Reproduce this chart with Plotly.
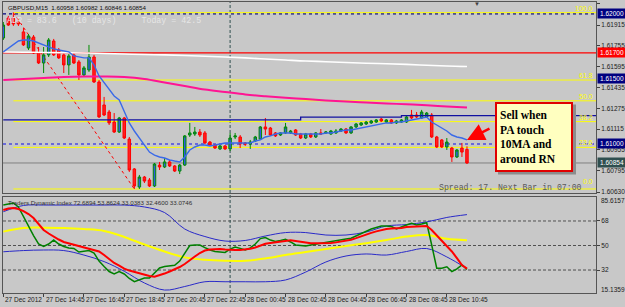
import plotly.graph_objects as go

# ---------------- data ----------------
symbol = "GBPUSD,M15"
bar_idx = list(range(93))  # 15-min bars, 0 = 27 Dec 12:45

opens = [1.61815, 1.61969, 1.61969, 1.61938, 1.61862, 1.61738, 1.61823, 1.61700, 1.61623, 1.61685,
         1.61792, 1.61723, 1.61685, 1.61608, 1.61685, 1.61631, 1.61531, 1.61569, 1.61669, 1.61477,
         1.61300, 1.61246, 1.61169, 1.61092, 1.61200, 1.61038, 1.60808, 1.60669, 1.60746, 1.60723,
         1.60677, 1.60838, 1.60823, 1.60862, 1.60831, 1.60792, 1.60838, 1.61069, 1.61077, 1.61092,
         1.61085, 1.61015, 1.60992, 1.60962, 1.60985, 1.60962, 1.61054, 1.61054, 1.61008, 1.61000,
         1.61023, 1.61038, 1.61131, 1.61123, 1.61085, 1.61069, 1.61085, 1.61085, 1.61108, 1.61077,
         1.61046, 1.61077, 1.61054, 1.61085, 1.61085, 1.61077, 1.61085, 1.61100, 1.61115, 1.61085,
         1.61131, 1.61146, 1.61154, 1.61162, 1.61169, 1.61192, 1.61169, 1.61185, 1.61162, 1.61169,
         1.61169, 1.61223, 1.61223, 1.61200, 1.61208, 1.61223, 1.61054, 1.61031, 1.60977, 1.60969,
         1.60900, 1.60969, 1.60958]
highs = [1.61938, 1.61985, 1.62010, 1.61962, 1.61892, 1.61846, 1.61838, 1.61746, 1.61746, 1.61815,
         1.61808, 1.61738, 1.61700, 1.61692, 1.61700, 1.61646, 1.61600, 1.61762, 1.61685, 1.61492,
         1.61362, 1.61262, 1.61238, 1.61208, 1.61208, 1.61054, 1.60815, 1.60762, 1.60754, 1.60738,
         1.60854, 1.60862, 1.60892, 1.60877, 1.60838, 1.60846, 1.61069, 1.61162, 1.61131, 1.61115,
         1.61100, 1.61023, 1.61000, 1.60992, 1.60992, 1.61085, 1.61085, 1.61069, 1.61015, 1.61031,
         1.61062, 1.61138, 1.61200, 1.61131, 1.61092, 1.61092, 1.61162, 1.61108, 1.61115, 1.61085,
         1.61085, 1.61085, 1.61092, 1.61115, 1.61100, 1.61108, 1.61115, 1.61123, 1.61123, 1.61138,
         1.61162, 1.61169, 1.61177, 1.61185, 1.61192, 1.61200, 1.61192, 1.61192, 1.61185, 1.61192,
         1.61215, 1.61262, 1.61246, 1.61262, 1.61246, 1.61238, 1.61062, 1.61038, 1.61046, 1.60977,
         1.60962, 1.61008, 1.60982]
lows = [1.61800, 1.61908, 1.61908, 1.61908, 1.61754, 1.61723, 1.61692, 1.61615, 1.61546, 1.61669,
        1.61677, 1.61654, 1.61546, 1.61531, 1.61615, 1.61492, 1.61515, 1.61554, 1.61469, 1.61200,
        1.61215, 1.61146, 1.61085, 1.61085, 1.61038, 1.60785, 1.60654, 1.60654, 1.60700, 1.60669,
        1.60669, 1.60800, 1.60815, 1.60823, 1.60785, 1.60769, 1.60831, 1.61054, 1.61062, 1.61054,
        1.61000, 1.60985, 1.60962, 1.60954, 1.60954, 1.60946, 1.61038, 1.60969, 1.60985, 1.60962,
        1.61015, 1.61031, 1.61069, 1.61062, 1.61054, 1.61062, 1.61077, 1.61077, 1.61062, 1.61038,
        1.61038, 1.61046, 1.61046, 1.61069, 1.61077, 1.61069, 1.61077, 1.61092, 1.61077, 1.61077,
        1.61123, 1.61138, 1.61146, 1.61154, 1.61162, 1.61169, 1.61162, 1.61154, 1.61154, 1.61162,
        1.61162, 1.61192, 1.61200, 1.61192, 1.61200, 1.61046, 1.60969, 1.60969, 1.60954, 1.60862,
        1.60892, 1.60900, 1.60846]
closes = [1.61915, 1.61915, 1.61923, 1.61923, 1.61762, 1.61831, 1.61700, 1.61623, 1.61685, 1.61800,
          1.61685, 1.61662, 1.61608, 1.61677, 1.61623, 1.61531, 1.61585, 1.61669, 1.61477, 1.61208,
          1.61223, 1.61162, 1.61092, 1.61200, 1.61046, 1.60800, 1.60677, 1.60746, 1.60715, 1.60677,
          1.60846, 1.60823, 1.60862, 1.60831, 1.60792, 1.60838, 1.61062, 1.61085, 1.61092, 1.61069,
          1.61008, 1.60992, 1.60969, 1.60985, 1.60962, 1.61046, 1.61062, 1.61000, 1.61000, 1.61015,
          1.61054, 1.61131, 1.61115, 1.61069, 1.61062, 1.61085, 1.61131, 1.61100, 1.61069, 1.61046,
          1.61077, 1.61054, 1.61085, 1.61077, 1.61092, 1.61100, 1.61100, 1.61115, 1.61085, 1.61131,
          1.61154, 1.61162, 1.61169, 1.61177, 1.61185, 1.61177, 1.61185, 1.61162, 1.61177, 1.61185,
          1.61208, 1.61200, 1.61208, 1.61246, 1.61238, 1.61054, 1.60977, 1.60977, 1.61015, 1.60900,
          1.60954, 1.60938, 1.60854]

ma10 = [1.61708, 1.61738, 1.61769, 1.61792, 1.61800, 1.61800, 1.61792, 1.61777, 1.61762, 1.61746,
        1.61731, 1.61723, 1.61715, 1.61708, 1.61677, 1.61669, 1.61662, 1.61662, 1.61608, 1.61523,
        1.61469, 1.61423, 1.61369, 1.61338, 1.61246, 1.61162, 1.61100, 1.61046, 1.60985, 1.60938,
        1.60915, 1.60900, 1.60892, 1.60877, 1.60869, 1.60862, 1.60900, 1.60954, 1.60977, 1.60992,
        1.60992, 1.60985, 1.60992, 1.61000, 1.61008, 1.61008, 1.61008, 1.61008, 1.61008, 1.61008,
        1.61023, 1.61031, 1.61054, 1.61062, 1.61077, 1.61085, 1.61085, 1.61085, 1.61077, 1.61077,
        1.61077, 1.61077, 1.61077, 1.61077, 1.61085, 1.61085, 1.61092, 1.61100, 1.61108, 1.61108,
        1.61115, 1.61123, 1.61131, 1.61138, 1.61146, 1.61154, 1.61162, 1.61162, 1.61169, 1.61169,
        1.61177, 1.61185, 1.61192, 1.61200, 1.61208, 1.61169, 1.61146, 1.61123, 1.61100, 1.61069,
        1.61054, 1.61046, 1.61031]

slow_idx = [0, 4, 8, 12, 16, 20, 24, 28, 32, 36, 40, 44, 48, 52, 56, 60, 64, 68, 72, 76, 80, 84, 88, 92]
ma_white = [1.61708, 1.61706, 1.61704, 1.61702, 1.61700, 1.61696, 1.61692, 1.61688, 1.61685, 1.61681,
            1.61675, 1.61669, 1.61662, 1.61654, 1.61646, 1.61638, 1.61633, 1.61627, 1.61621, 1.61617,
            1.61612, 1.61606, 1.61600, 1.61596]
ma_pink = [1.61492, 1.61500, 1.61508, 1.61515, 1.61519, 1.61519, 1.61515, 1.61500, 1.61473, 1.61446,
           1.61419, 1.61400, 1.61381, 1.61367, 1.61355, 1.61346, 1.61335, 1.61326, 1.61319, 1.61312,
           1.61305, 1.61298, 1.61289, 1.61281]

step_idx = [0, 59, 79]
step_vals = [1.61185, 1.61206, 1.61218]

fib_levels = [100.0, 61.8, 50.0, 38.2, 23.6, 0.0]
fib_from_bar, fib_to_bar = 2, 26
level_navy = 1.62000
level_red = 1.61700
level_dotted = 1.61000

price_ticks = [1.62080, 1.61915, 1.61755, 1.61595, 1.61435, 1.61275, 1.61115, 1.60955, 1.60795, 1.60630]
marked_prices = [1.62000, 1.61700, 1.61500, 1.61000]
marked_colors = ["#000080", "#FF0000", "#000080", "#000080"]

time_label_bars = [0, 8, 16, 24, 32, 40, 48, 56, 64, 72, 80, 88]
time_labels = ["27 Dec 2012", "27 Dec 14:45", "27 Dec 16:45", "27 Dec 18:45", "27 Dec 20:45",
               "27 Dec 22:45", "28 Dec 00:45", "28 Dec 02:45", "28 Dec 04:45", "28 Dec 06:45",
               "28 Dec 08:45", "28 Dec 10:45"]
day_break_bar = 45

# Traders Dynamic Index
tdi_green = [79.7, 80.5, 81.2, 78.3, 71.3, 63.2, 57.3, 51.1, 49.3, 51.1,
             54.0, 51.1, 49.3, 48.2, 47.8, 45.2, 46.0, 46.3, 44.5, 38.6,
             34.6, 30.9, 29.1, 30.8, 29.1, 25.8, 23.4, 25.0, 26.2, 26.2,
             29.8, 33.5, 34.6, 34.9, 35.5, 38.6, 44.5, 50.0, 50.4, 50.4,
             48.5, 46.7, 45.6, 45.4, 44.9, 47.4, 48.9, 47.9, 46.7, 48.2,
             51.1, 55.1, 55.9, 54.0, 52.9, 53.7, 54.6, 52.6, 50.4, 50.0,
             49.6, 50.4, 51.1, 51.6, 52.2, 52.8, 53.7, 54.5, 54.8, 55.3,
             57.0, 59.2, 60.6, 62.1, 63.2, 64.3, 64.3, 63.9, 62.1, 63.8,
             65.1, 66.3, 65.1, 65.8, 66.7, 50.4, 33.3, 33.3, 34.4, 30.8,
             32.8, 35.7, 32.4600]
tdi_red = [76.1, 77.2, 77.5, 76.8, 75.3, 73.1, 70.2, 65.8, 61.4, 58.8,
           56.3, 54.4, 52.6, 51.6, 50.7, 50.0, 48.9, 47.8, 46.7, 45.6,
           43.0, 40.1, 37.2, 35.2, 33.0, 31.6, 30.5, 29.4, 28.3, 27.6,
           27.1, 28.0, 29.4, 30.9, 32.4, 34.2, 36.4, 39.4, 41.9, 44.5,
           46.3, 47.1, 47.4, 47.4, 47.1, 46.7, 46.7, 46.7, 47.1, 47.7,
           48.5, 50.0, 51.3, 51.8, 52.3, 52.8, 53.3, 53.8, 53.3, 52.6,
           51.8, 51.6, 51.6, 51.6, 51.6, 51.8, 52.3, 52.8, 53.5, 54.3,
           55.4, 56.8, 58.2, 59.3, 60.4, 61.5, 62.1, 62.5, 62.6, 62.9,
           63.6, 63.8, 64.0, 64.2, 64.3, 61.4, 57.4, 54.0, 49.8, 45.6,
           40.8, 35.7, 33.0746]
tdi_upper = [74.8, 79.4, 79.7, 79.7, 79.7, 79.7, 79.7, 78.3, 74.2, 62.1, 56.6, 53.3,
             53.7, 57.0, 59.5, 59.5, 57.7, 57.7, 59.9, 64.3, 65.4, 67.3, 70.6, 72.6894]
tdi_lower = [45.4, 46.3, 46.7, 46.3, 43.0, 38.2, 31.1, 22.5, 17.3, 19.9, 23.4, 23.4,
             23.4, 23.4, 24.7, 30.5, 37.9, 42.3, 43.8, 43.0, 45.6, 47.8, 41.6, 33.0383]
tdi_mid = [60.2, 62.9, 63.1, 62.9, 62.1, 60.7, 56.3, 50.7, 45.6, 41.3, 39.5, 38.8,
           38.8, 40.5, 43.0, 45.2, 47.4, 49.6, 51.7, 54.0, 56.6, 57.7, 54.9, 53.8624]
tdi_levels = [68, 50, 32]
tdi_range = [15.1359, 85.6157]

adr_value, adr_days, today_range = 83.6, 10, 42.5
spread, next_bar = 17, "07:00"
note_lines = ["Sell when", "PA touch", "10MA and", "around RN"]

# ---------------- layout geometry ----------------
W, H = 625, 307
ML, MR, MT, MB = 3, 29, 2, 14
XR = [-0.06, 117.6]
Y1R = [1.60623, 1.62092]
DOM1 = [0.3436, 1.0]
DOM2 = [0.0, 0.3299]
BG = "#C8C8C8"
SANS = "Liberation Sans"
MONO = "Liberation Mono"
SERIF = "Liberation Serif"
PH = H - MT - MB


def ypaper(px):
    return (H - MB - px) / PH


def xpaper(px):
    return (px - ML) / (W - ML - MR)


fig = go.Figure()

# slow moving averages
fig.add_trace(go.Scatter(x=slow_idx, y=ma_white, mode="lines", line=dict(color="#FFFFFF", width=1.6, shape="spline"),
                         xaxis="x", yaxis="y", hoverinfo="skip"))
fig.add_trace(go.Scatter(x=slow_idx, y=ma_pink, mode="lines", line=dict(color="#FF1493", width=2, shape="spline"),
                         xaxis="x", yaxis="y", hoverinfo="skip"))
# stepped navy line
fig.add_trace(go.Scatter(x=step_idx + [XR[1]], y=step_vals + [step_vals[-1]], mode="lines",
                         line=dict(color="#1010A0", width=1.3, shape="hv"), xaxis="x", yaxis="y", hoverinfo="skip"))
# candles
fig.add_trace(go.Candlestick(x=bar_idx, open=opens, high=highs, low=lows, close=closes,
                             increasing=dict(line=dict(color="#008C00", width=1), fillcolor="#2F5BE0"),
                             decreasing=dict(line=dict(color="#FF0000", width=1), fillcolor="#FF2020"),
                             whiskerwidth=0, xaxis="x", yaxis="y", hoverinfo="skip"))
# 10 MA
fig.add_trace(go.Scatter(x=bar_idx, y=ma10, mode="lines", line=dict(color="#3A6AE8", width=1.4),
                         xaxis="x", yaxis="y", hoverinfo="skip"))

# TDI
fig.add_trace(go.Scatter(x=slow_idx, y=tdi_upper, mode="lines", line=dict(color="#2A2AC8", width=1, shape="spline"),
                         xaxis="x2", yaxis="y2", hoverinfo="skip"))
fig.add_trace(go.Scatter(x=slow_idx, y=tdi_lower, mode="lines", line=dict(color="#2A2AC8", width=1, shape="spline"),
                         xaxis="x2", yaxis="y2", hoverinfo="skip"))
fig.add_trace(go.Scatter(x=slow_idx, y=tdi_mid, mode="lines", line=dict(color="#FFFF00", width=2, shape="spline"),
                         xaxis="x2", yaxis="y2", hoverinfo="skip"))
fig.add_trace(go.Scatter(x=bar_idx, y=tdi_green, mode="lines", line=dict(color="#008000", width=1.5),
                         xaxis="x2", yaxis="y2", hoverinfo="skip"))
fig.add_trace(go.Scatter(x=bar_idx, y=tdi_red, mode="lines", line=dict(color="#FF0000", width=2),
                         xaxis="x2", yaxis="y2", hoverinfo="skip"))

shapes = []
fib_hi = highs[fib_from_bar]
fib_lo = lows[fib_to_bar]
for lv in fib_levels:
    p = fib_lo + lv / 100.0 * (fib_hi - fib_lo)
    shapes.append(dict(type="line", xref="x", yref="y", x0=fib_from_bar, x1=XR[1], y0=p, y1=p,
                       line=dict(color="#FFFF00", width=1), layer="below"))
shapes.append(dict(type="line", xref="x", yref="y", x0=fib_from_bar, x1=fib_to_bar, y0=fib_hi, y1=fib_lo,
                   line=dict(color="#FF0000", width=1, dash="dot"), layer="below"))
shapes.append(dict(type="line", xref="paper", yref="y", x0=0, x1=1, y0=level_navy, y1=level_navy,
                   line=dict(color="#000080", width=1.3, dash="dot"), layer="below"))
shapes.append(dict(type="line", xref="paper", yref="y", x0=0, x1=1, y0=level_red, y1=level_red,
                   line=dict(color="#FF0000", width=1.2), layer="below"))
shapes.append(dict(type="line", xref="paper", yref="y", x0=0, x1=1, y0=level_dotted, y1=level_dotted,
                   line=dict(color="#6A6AD8", width=1.8, dash="dot"), layer="below"))
shapes.append(dict(type="line", xref="paper", yref="y", x0=0, x1=1, y0=closes[-1], y1=closes[-1],
                   line=dict(color="#808080", width=1), layer="below"))
for lv in tdi_levels:
    shapes.append(dict(type="line", xref="paper", yref="y2", x0=0, x1=1, y0=lv, y1=lv,
                       line=dict(color="#505050", width=1, dash="3px,2px"), layer="below"))
shapes.append(dict(type="line", xref="x", yref="paper", x0=day_break_bar, x1=day_break_bar, y0=0, y1=1,
                   line=dict(color="#2F4F4F", width=1, dash="3px,2px"), layer="below"))

# note box geometry (pixels) and its drop shadow
NOTE_CX, NOTE_CY, NOTE_W, NOTE_H = 534, 136.5, 78, 70
shapes.append(dict(type="rect", xref="paper", yref="paper",
                   x0=xpaper(NOTE_CX - NOTE_W / 2 + 3), x1=xpaper(NOTE_CX + NOTE_W / 2 + 3),
                   y0=ypaper(NOTE_CY + NOTE_H / 2 + 3), y1=ypaper(NOTE_CY - NOTE_H / 2 + 3),
                   fillcolor="#8C8C8C", line=dict(width=0), layer="above"))

ann = []
# chart caption
ann.append(dict(xref="paper", yref="paper", x=xpaper(6), y=ypaper(7), xanchor="left", yanchor="middle",
                text=f"{symbol}  {opens[-1]:.5f} {highs[-1]:.5f} {lows[-1]:.5f} {closes[-1]:.5f}",
                showarrow=False, font=dict(family=SANS, size=6.2, color="#101010")))
ann.append(dict(xref="paper", yref="paper", x=xpaper(5), y=ypaper(21), xanchor="left", yanchor="middle",
                text=f"ADR = {adr_value}\u00a0\u00a0\u00a0({adr_days} days)\u00a0\u00a0\u00a0\u00a0\u00a0Today = {today_range}",
                showarrow=False, font=dict(family=MONO, size=8.3, color="#E6E6E6")))
ann.append(dict(xref="paper", yref="paper", x=xpaper(584), y=ypaper(188), xanchor="right", yanchor="middle",
                text=f"Spread:\u00a0{spread}.\u00a0Next\u00a0Bar\u00a0in\u00a0{next_bar}",
                showarrow=False, font=dict(family=MONO, size=8.2, color="#5A5A5A")))
ann.append(dict(xref="paper", yref="paper", x=xpaper(477), y=ypaper(4), xanchor="center", yanchor="middle",
                text="\u25BC", showarrow=False, font=dict(family=SANS, size=6, color="#404040")))
# fib labels
for lv in fib_levels:
    p = fib_lo + lv / 100.0 * (fib_hi - fib_lo)
    ann.append(dict(xref="paper", yref="y", x=1, y=p, xanchor="right", yanchor="bottom", xshift=-1,
                    yshift=(2 if lv == 0 else -1),
                    text=f"{lv:.1f}", showarrow=False, font=dict(family=SANS, size=7, color="#FFFF00")))
# marked price labels
for p, c in zip(marked_prices + [closes[-1]], marked_colors + ["#2F4F4F"]):
    ann.append(dict(xref="paper", yref="y", x=1, y=p, xanchor="left", yanchor="middle", xshift=1,
                    text=f"{p:.5f}", showarrow=False, bgcolor=c, borderpad=0.5, width=27, height=8,
                    font=dict(family=SANS, size=6.5, color="#FFFFFF")))
# TDI caption + extreme labels
ann.append(dict(xref="paper", yref="paper", x=xpaper(6), y=ypaper(202), xanchor="left", yanchor="middle",
                text="Traders Dynamic Index " + " ".join(f"{v:.4f}" for v in
                                                         [tdi_upper[-1], tdi_mid[-1], tdi_lower[-1], tdi_green[-1], tdi_red[-1]]),
                showarrow=False, font=dict(family=SANS, size=6.2, color="#303030")))
for v, py in [(tdi_range[1], 200), (tdi_range[0], 289)]:
    ann.append(dict(xref="paper", yref="paper", x=1, y=ypaper(py), xanchor="left", yanchor="middle", xshift=3,
                    text=f"{v:.4f}", showarrow=False, font=dict(family=SANS, size=6.5, color="#202020")))
# time labels
for b, t in zip(time_label_bars, time_labels):
    ann.append(dict(xref="x2", yref="paper", x=b, y=0, xanchor="left", yanchor="top", yshift=-1, xshift=0,
                    text=t, showarrow=False, font=dict(family=SANS, size=6.5, color="#202020")))
# note box
note = "<b>" + "<br>".join(note_lines) + "</b>"
ann.append(dict(xref="paper", yref="paper", x=xpaper(NOTE_CX), y=ypaper(NOTE_CY), xanchor="center", yanchor="middle",
                text=note, align="left", showarrow=False, bgcolor="#FFFFC0", bordercolor="#E00000",
                borderwidth=2, borderpad=3, width=NOTE_W - 10, height=NOTE_H - 10,
                font=dict(family=SERIF, size=11.5, color="#000000")))
# arrow to the 10MA
ann.append(dict(xref="x", yref="y", x=bar_idx[-1], y=ma10[-1], ax=24, ay=-12, text="", showarrow=True,
                arrowhead=2, arrowsize=1.4, arrowwidth=2.5, arrowcolor="#FF0000", standoff=0))

axis_common = dict(showgrid=False, zeroline=False, showline=True, mirror=True, linecolor="#555555", linewidth=1)

fig.update_layout(
    width=W, height=H, margin=dict(l=ML, r=MR, t=MT, b=MB, autoexpand=False),
    paper_bgcolor=BG, plot_bgcolor=BG, showlegend=False,
    xaxis=dict(domain=[0, 1], range=XR, anchor="y", showticklabels=False, ticks="",
               rangeslider=dict(visible=False), **axis_common),
    xaxis2=dict(domain=[0, 1], range=XR, matches="x", anchor="y2", showticklabels=False,
                tickmode="array", tickvals=time_label_bars, ticks="outside", ticklen=3, tickcolor="#404040",
                **axis_common),
    yaxis=dict(domain=DOM1, range=Y1R, anchor="x", side="right", tickmode="array", tickvals=price_ticks,
               ticktext=[f"{v:.5f}" for v in price_ticks], ticks="outside", ticklen=3, tickcolor="#404040",
               tickfont=dict(family=SANS, size=6.5, color="#202020"), automargin=False, **axis_common),
    yaxis2=dict(domain=DOM2, range=tdi_range, anchor="x2", side="right", tickmode="array", tickvals=tdi_levels,
                ticktext=[str(v) for v in tdi_levels], ticks="outside", ticklen=3, tickcolor="#404040",
                tickfont=dict(family=SANS, size=6.5, color="#202020"), automargin=False, **axis_common),
    shapes=shapes, annotations=ann, hovermode=False,
)

fig.write_html("out.html", config={"displayModeBar": False, "staticPlot": True})
